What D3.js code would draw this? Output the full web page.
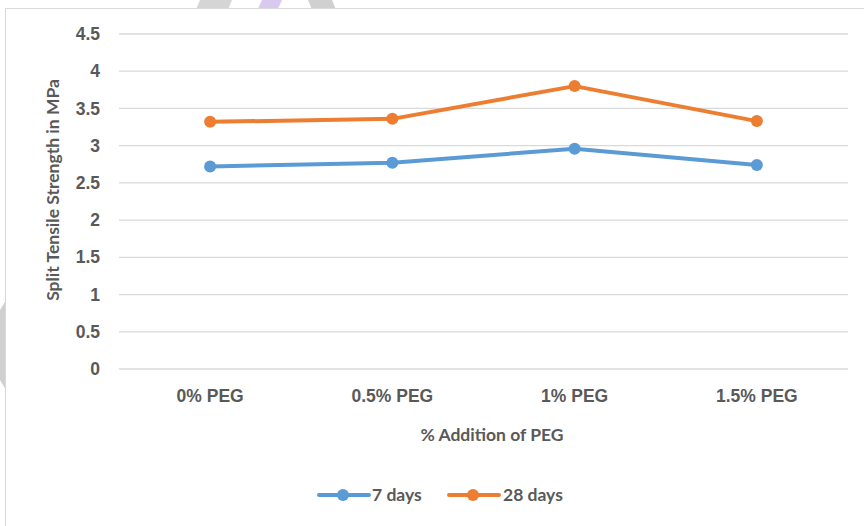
<!DOCTYPE html>
<html><head><meta charset="utf-8">
<script src="https://cdn.jsdelivr.net/npm/d3@7"></script>
<style>body{margin:0;background:#fff;}svg{display:block;font-family:Lato,"Open Sans",sans-serif;}</style>
</head><body><svg id="c" width="864" height="526"></svg>
<script>
const categories = ["0% PEG","0.5% PEG","1% PEG","1.5% PEG"];
const days7 = [2.72, 2.77, 2.96, 2.74];
const days28 = [3.32, 3.36, 3.80, 3.33];
const yTicks = [0,0.5,1,1.5,2,2.5,3,3.5,4,4.5];
const seriesNames = ["7 days","28 days"];
const colors = ["#5b9bd5","#ed7d31"];

const svg = d3.select("#c");
// faint background decorations
svg.append("polygon").attr("points","200,0 232,0 222,24 190,24").attr("fill","#d0d0d0").attr("opacity",0.9);
svg.append("polygon").attr("points","262,0 282,0 272,22 252,22").attr("fill","#d9c8f0");
svg.append("polygon").attr("points","308,0 332,0 342,24 318,24").attr("fill","#d0d0d0");
svg.append("polygon").attr("points","0,310 6,300 6,390 0,380").attr("fill","#d0d0d0");
svg.append("rect").attr("x",5.5).attr("y",8.5).attr("width",870).attr("height",530).attr("fill","#fff").attr("stroke","#d9d9d9");

const x = d3.scaleBand().domain(categories).range([119,848]);
const y = d3.scaleLinear().domain([0,4.5]).range([369,34]);

const grid = svg.append("g");
grid.selectAll("line").data(yTicks).join("line")
  .attr("x1",119).attr("x2",848).attr("y1",d=>y(d)).attr("y2",d=>y(d))
  .attr("stroke","#d9d9d9").attr("stroke-width",1.3);

const yAxis = svg.append("g").attr("transform","translate(100,0)")
  .call(d3.axisLeft(y).tickValues(yTicks).tickSize(0).tickPadding(0).tickFormat(d=>String(d)));
yAxis.select(".domain").remove();
yAxis.selectAll("text").attr("fill","#595959").attr("font-size",17.5).attr("font-weight",700);

const xAxis = svg.append("g").attr("transform","translate(0,369)")
  .call(d3.axisBottom(x).tickSize(0).tickPadding(21));
xAxis.select(".domain").remove();
xAxis.selectAll("text").attr("fill","#595959").attr("font-size",17.5).attr("font-weight",700);

svg.append("text").attr("x",492).attr("y",441).attr("text-anchor","middle")
  .attr("fill","#595959").attr("font-size",17.5).attr("font-weight",700).text("% Addition of PEG");
svg.append("text").attr("transform","translate(59,190) rotate(-90)").attr("text-anchor","middle")
  .attr("fill","#595959").attr("font-size",17.5).attr("font-weight",700).text("Split Tensile Strength in MPa");

const line = d3.line().x((d,i)=>x(categories[i])+x.bandwidth()/2).y(d=>y(d));
[days7, days28].forEach((vals,k)=>{
  svg.append("path").datum(vals).attr("d",line).attr("fill","none")
    .attr("stroke",colors[k]).attr("stroke-width",4).attr("stroke-linejoin","round");
  svg.append("g").selectAll("circle").data(vals).join("circle")
    .attr("cx",(d,i)=>x(categories[i])+x.bandwidth()/2).attr("cy",d=>y(d))
    .attr("r",6).attr("fill",colors[k]);
});

// legend
const leg = [{x:319,tx:372},{x:449,tx:503}];
seriesNames.forEach((n,k)=>{
  const g = svg.append("g");
  g.append("line").attr("x1",leg[k].x).attr("x2",leg[k].x+50).attr("y1",495).attr("y2",495)
    .attr("stroke",colors[k]).attr("stroke-width",4).attr("stroke-linecap","round");
  g.append("circle").attr("cx",leg[k].x+24).attr("cy",495).attr("r",6).attr("fill",colors[k]);
  g.append("text").attr("x",leg[k].tx).attr("y",501).attr("fill","#595959")
    .attr("font-size",17.5).attr("font-weight",700).text(n);
});
</script></body></html>
